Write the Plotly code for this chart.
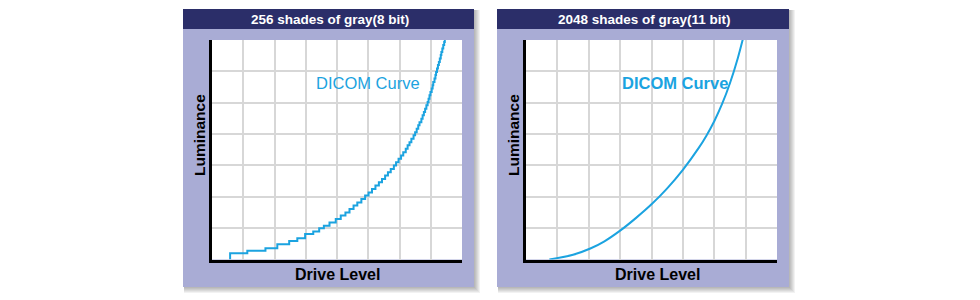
import plotly.graph_objects as go

# ---------------- data (grid units: drive level 0..8, luminance 0..7) ----------------
panel_titles = ["256 shades of gray(8 bit)", "2048 shades of gray(11 bit)"]
curve_label = "DICOM Curve"
x_title = "Drive Level"
y_title = "Luminance"

x_range = [0, 8]
y_range = [0, 7]

# 8-bit: stepped curve (rise positions and luminance levels)
step_drive = [0.58, 0.58, 1.13, 1.71, 2.09, 2.47, 2.73, 2.98, 3.24, 3.43, 3.58, 3.76, 3.96,
              4.12, 4.27, 4.40, 4.53, 4.65, 4.78, 4.90, 5.01, 5.12, 5.23, 5.34, 5.44,
              5.54, 5.63, 5.72, 5.82, 5.89, 5.97, 6.05, 6.12, 6.20, 6.26, 6.32, 6.38,
              6.45, 6.50, 6.55, 6.60, 6.64, 6.70, 6.74, 6.78, 6.82, 6.86, 6.90, 6.93,
              6.96, 6.99, 7.03, 7.06, 7.08, 7.12, 7.15, 7.17, 7.20, 7.23, 7.26, 7.29,
              7.32, 7.34, 7.37, 7.40, 7.43, 7.45]
step_lum = [0.00, 0.20, 0.28, 0.36, 0.49, 0.59, 0.68, 0.81, 0.89, 1.00, 1.08, 1.18, 1.29,
            1.40, 1.50, 1.61, 1.72, 1.82, 1.93, 2.04, 2.14, 2.25, 2.36, 2.46, 2.57,
            2.68, 2.78, 2.89, 3.00, 3.10, 3.21, 3.32, 3.42, 3.53, 3.64, 3.74, 3.85,
            3.96, 4.06, 4.17, 4.28, 4.38, 4.49, 4.60, 4.70, 4.81, 4.92, 5.02, 5.13,
            5.24, 5.34, 5.45, 5.56, 5.66, 5.77, 5.88, 5.98, 6.09, 6.20, 6.30, 6.41,
            6.52, 6.62, 6.73, 6.84, 6.94, 7.05]

# 11-bit: smooth curve
smooth_drive = [0.745, 1.50, 2.05, 2.50, 3.00, 3.50, 4.00, 4.50, 5.00, 5.50, 5.75,
                6.00, 6.25, 6.50, 6.75, 7.00]
smooth_lum = [0.00, 0.15, 0.35, 0.58, 0.92, 1.32, 1.76, 2.27, 2.86, 3.55, 3.95,
              4.41, 4.96, 5.62, 6.42, 7.38]

# ---------------- styling / layout ----------------
W, H = 980, 300
BLUE = "#1ba3e0"
NAVY = "#2b2e69"
LILAC = "#a9acd5"
GRID = "#d7d7d7"
FONT = "Liberation Sans, Arial, sans-serif"


def fx(p):
    return p / W


def fy(p):
    return 1 - p / H


panels = [
    dict(left=183, right=474, plot_l=212, plot_r=462),
    dict(left=497, right=789, plot_l=526, plot_r=777),
]
top, bar_bottom, bottom = 9, 29, 287
plot_t, plot_b = 40, 259.5

fig = go.Figure()
fig.add_trace(go.Scatter(x=step_drive, y=step_lum, mode="lines", line_shape="hv",
                         line=dict(color=BLUE, width=2), xaxis="x", yaxis="y",
                         showlegend=False, hoverinfo="skip"))
fig.add_trace(go.Scatter(x=smooth_drive, y=smooth_lum, mode="lines", line_shape="spline",
                         line=dict(color=BLUE, width=2, smoothing=1), xaxis="x2", yaxis="y2",
                         showlegend=False, hoverinfo="skip"))

shapes = []
annotations = []
for i, p in enumerate(panels):
    # soft shadow
    for k in range(1, 7):
        shapes.append(dict(type="rect", xref="paper", yref="paper", layer="below",
                           x0=fx(p["left"] + 1), x1=fx(p["right"] + k),
                           y0=fy(bottom + k), y1=fy(top + 1),
                           line=dict(width=0), fillcolor="rgba(0,0,0,0.05)"))
    shapes.append(dict(type="rect", xref="paper", yref="paper", layer="below",
                       x0=fx(p["left"]), x1=fx(p["right"]), y0=fy(bottom), y1=fy(top),
                       line=dict(width=0), fillcolor=LILAC))
    shapes.append(dict(type="rect", xref="paper", yref="paper", layer="below",
                       x0=fx(p["left"]), x1=fx(p["right"]), y0=fy(bar_bottom), y1=fy(top),
                       line=dict(width=0), fillcolor=NAVY))
    shapes.append(dict(type="rect", xref="paper", yref="paper", layer="below",
                       x0=fx(p["plot_l"]), x1=fx(p["plot_r"]), y0=fy(plot_b), y1=fy(plot_t),
                       line=dict(width=0), fillcolor="white"))
    cx = (p["left"] + p["right"]) / 2
    annotations.append(dict(text="<b>%s</b>" % panel_titles[i], x=fx(cx + 1.5), y=fy(19),
                            xref="paper", yref="paper", showarrow=False,
                            xanchor="center", yanchor="middle",
                            font=dict(family=FONT, size=13.5, color="white")))
    annotations.append(dict(text="<b>%s</b>" % y_title, x=fx(p["left"] + 16), y=fy(135),
                            xref="paper", yref="paper", showarrow=False, textangle=-90,
                            xanchor="center", yanchor="middle",
                            font=dict(family=FONT, size=15.5, color="black")))
    pcx = (p["plot_l"] + p["plot_r"]) / 2
    annotations.append(dict(text="<b>%s</b>" % x_title, x=fx(pcx + (0 if i == 0 else 6)), y=fy(274),
                            xref="paper", yref="paper", showarrow=False,
                            xanchor="center", yanchor="middle",
                            font=dict(family=FONT, size=16, color="black")))

annotations.append(dict(text=curve_label, x=fx(368), y=fy(83), xref="paper", yref="paper",
                        showarrow=False, xanchor="center", yanchor="middle",
                        font=dict(family=FONT, size=16.5, color=BLUE)))
annotations.append(dict(text="<b>%s</b>" % curve_label, x=fx(675), y=fy(83), xref="paper",
                        yref="paper", showarrow=False, xanchor="center", yanchor="middle",
                        font=dict(family=FONT, size=16.5, color=BLUE)))

axis_common = dict(showgrid=True, gridcolor=GRID, gridwidth=1.5, dtick=1, tick0=0,
                   showticklabels=False, ticks="", zeroline=False, showline=True,
                   linecolor="black", linewidth=3, fixedrange=True)
ydom = [fy(plot_b), fy(plot_t)]
fig.update_layout(
    width=W, height=H, margin=dict(l=0, r=0, t=0, b=0),
    paper_bgcolor="white", plot_bgcolor="rgba(0,0,0,0)",
    xaxis=dict(domain=[fx(panels[0]["plot_l"]), fx(panels[0]["plot_r"])], range=x_range,
               anchor="y", **axis_common),
    yaxis=dict(domain=ydom, range=y_range, anchor="x", **axis_common),
    xaxis2=dict(domain=[fx(panels[1]["plot_l"]), fx(panels[1]["plot_r"])], range=x_range,
                anchor="y2", **axis_common),
    yaxis2=dict(domain=ydom, range=y_range, anchor="x2", **axis_common),
    shapes=shapes, annotations=annotations, showlegend=False,
)

fig.write_html("out.html", config={"displayModeBar": False})
